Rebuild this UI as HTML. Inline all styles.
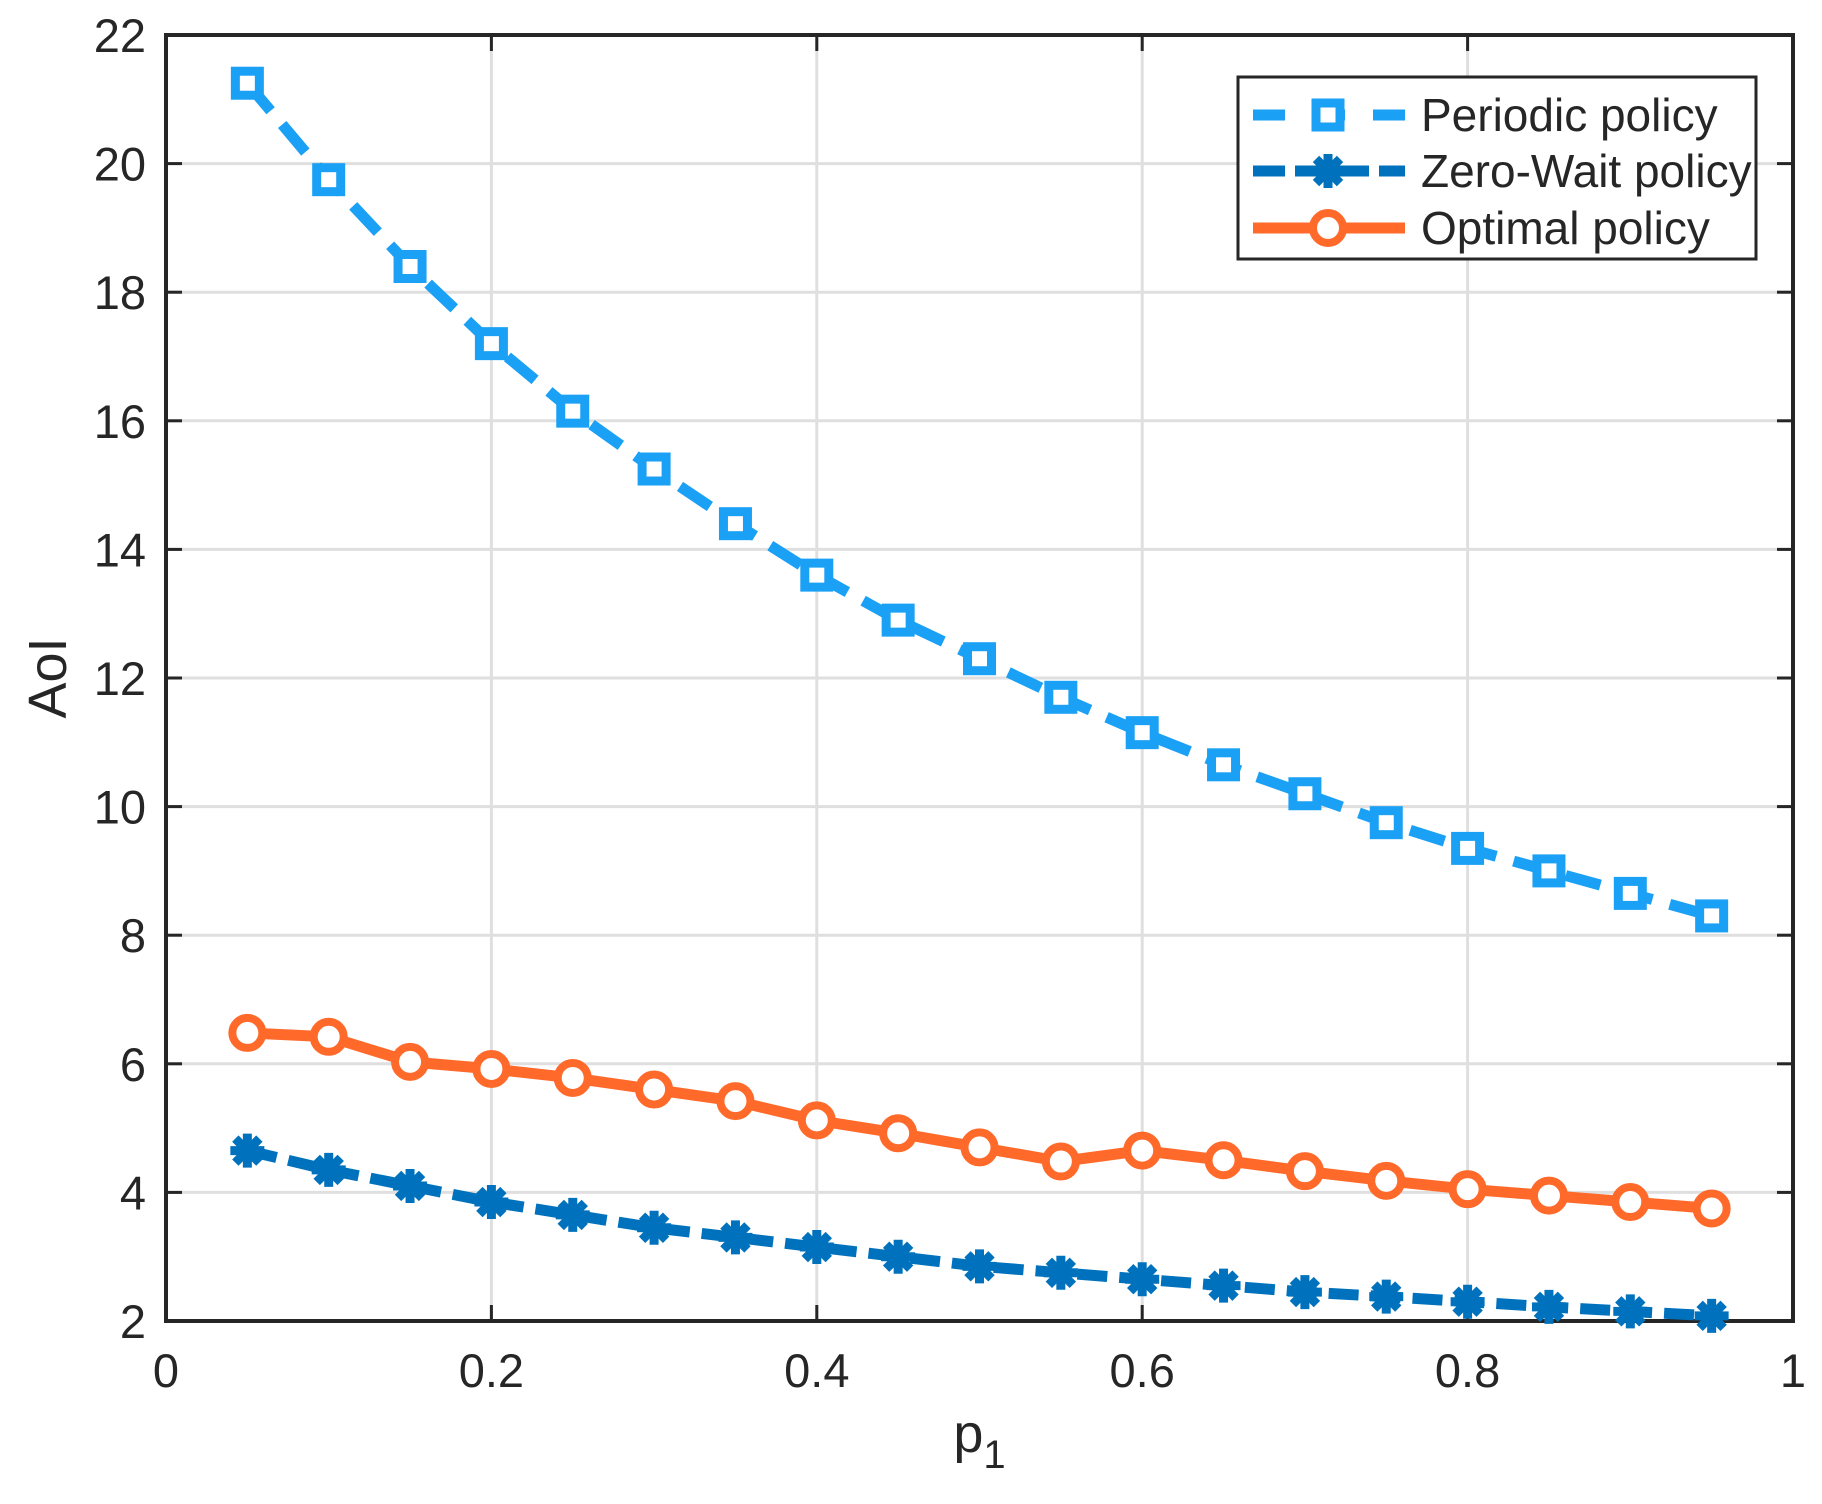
<!DOCTYPE html>
<html><head><meta charset="utf-8"><style>
html,body{margin:0;padding:0;background:#fff;}
svg text{font-family:"Liberation Sans",sans-serif;fill:#262626;}
</style></head><body>
<svg id="s" width="1822" height="1499" xmlns="http://www.w3.org/2000/svg"></svg>
<script>
const L=166,R=1793,T=35,B=1321;
const X=v=>L+(R-L)*v, Y=v=>B-(B-T)*(v-2)/20;
let h='<rect width="1822" height="1499" fill="#fff"/>';
for(let i=1;i<5;i++){h+=`<line x1="${X(i*0.2)}" y1="${T}" x2="${X(i*0.2)}" y2="${B}" stroke="#dfdfdf" stroke-width="3"/>`;}
for(let v=4;v<22;v+=2){h+=`<line x1="${L}" y1="${Y(v)}" x2="${R}" y2="${Y(v)}" stroke="#dfdfdf" stroke-width="3"/>`;}
for(let i=0;i<=5;i++){const x=X(i*0.2);h+=`<line x1="${x}" y1="${B}" x2="${x}" y2="${B-16}" stroke="#262626" stroke-width="3"/><line x1="${x}" y1="${T}" x2="${x}" y2="${T+16}" stroke="#262626" stroke-width="3"/>`;
 h+=`<text x="${x}" y="${B+66}" font-size="47" text-anchor="middle">${i==0?'0':i==5?'1':(i*0.2).toFixed(1)}</text>`;}
for(let v=2;v<=22;v+=2){const y=Y(v);h+=`<line x1="${L}" y1="${y}" x2="${L+16}" y2="${y}" stroke="#262626" stroke-width="3"/><line x1="${R}" y1="${y}" x2="${R-16}" y2="${y}" stroke="#262626" stroke-width="3"/>`;
 h+=`<text x="${L-20}" y="${y+17}" font-size="47" text-anchor="end">${v}</text>`;}
h+=`<rect x="${L}" y="${T}" width="${R-L}" height="${B-T}" fill="none" stroke="#262626" stroke-width="4"/>`;
h+=`<text x="${(L+R)/2}" y="1452" font-size="54" text-anchor="middle">p<tspan font-size="40" dy="16">1</tspan></text>`;
h+=`<text transform="translate(66,${(T+B)/2}) rotate(-90)" font-size="54" text-anchor="middle">AoI</text>`;
const xs=[];for(let i=1;i<=19;i++)xs.push(i*0.05);
const P=[21.25,19.75,18.4,17.2,16.15,15.25,14.4,13.6,12.9,12.3,11.7,11.15,10.65,10.2,9.75,9.35,9.0,8.65,8.3];
const Z=[4.65,4.35,4.1,3.85,3.65,3.45,3.3,3.15,3.0,2.85,2.75,2.65,2.55,2.45,2.38,2.3,2.22,2.15,2.08];
const O=[6.48,6.42,6.03,5.92,5.78,5.6,5.42,5.12,4.92,4.7,4.48,4.65,4.5,4.33,4.18,4.05,3.95,3.85,3.75];
const pts=a=>a.map((v,i)=>X(xs[i]).toFixed(1)+','+Y(v).toFixed(1)).join(' ');
const sq=(x,y,c)=>`<rect x="${x-12}" y="${y-12}" width="24" height="24" fill="#fff" stroke="${c}" stroke-width="9"/>`;
const ci=(x,y,c)=>`<circle cx="${x}" cy="${y}" r="15" fill="#fff" stroke="${c}" stroke-width="8"/>`;
const st=(x,y,c)=>{let s='';for(let k=0;k<4;k++){const a=k*Math.PI/4;s+=`<line x1="${x-17*Math.cos(a)}" y1="${y-17*Math.sin(a)}" x2="${x+17*Math.cos(a)}" y2="${y+17*Math.sin(a)}" stroke="${c}" stroke-width="9"/>`;}return s+`<circle cx="${x}" cy="${y}" r="9" fill="${c}"/>`;};
const cP='#1aa0f5',cZ='#0072bd',cO='#ff6a2b';
h+=`<polyline points="${pts(P)}" fill="none" stroke="${cP}" stroke-width="11" stroke-dasharray="36 18"/>`;
h+=`<polyline points="${pts(Z)}" fill="none" stroke="${cZ}" stroke-width="11" stroke-dasharray="30 12"/>`;
h+=`<polyline points="${pts(O)}" fill="none" stroke="${cO}" stroke-width="11"/>`;
xs.forEach((x,i)=>{h+=sq(X(x),Y(P[i]),cP)+st(X(x),Y(Z[i]),cZ)+ci(X(x),Y(O[i]),cO);});
h+=`<rect x="1238" y="77" width="518" height="182" fill="#fff" stroke="#262626" stroke-width="3"/>`;
const ly=[115,171,228];
h+=`<line x1="1253" y1="${ly[0]}" x2="1405" y2="${ly[0]}" stroke="${cP}" stroke-width="11" stroke-dasharray="32 28"/>`+sq(1328,ly[0],cP);
h+=`<line x1="1253" y1="${ly[1]}" x2="1405" y2="${ly[1]}" stroke="${cZ}" stroke-width="11" stroke-dasharray="32 10"/>`+st(1328,ly[1],cZ);
h+=`<line x1="1253" y1="${ly[2]}" x2="1405" y2="${ly[2]}" stroke="${cO}" stroke-width="11"/>`+ci(1328,ly[2],cO);
['Periodic policy','Zero-Wait policy','Optimal policy'].forEach((t,i)=>{h+=`<text x="1421" y="${ly[i]+16}" font-size="46" fill="#000">${t}</text>`;});
document.getElementById('s').innerHTML=h;
</script>
</body></html>
